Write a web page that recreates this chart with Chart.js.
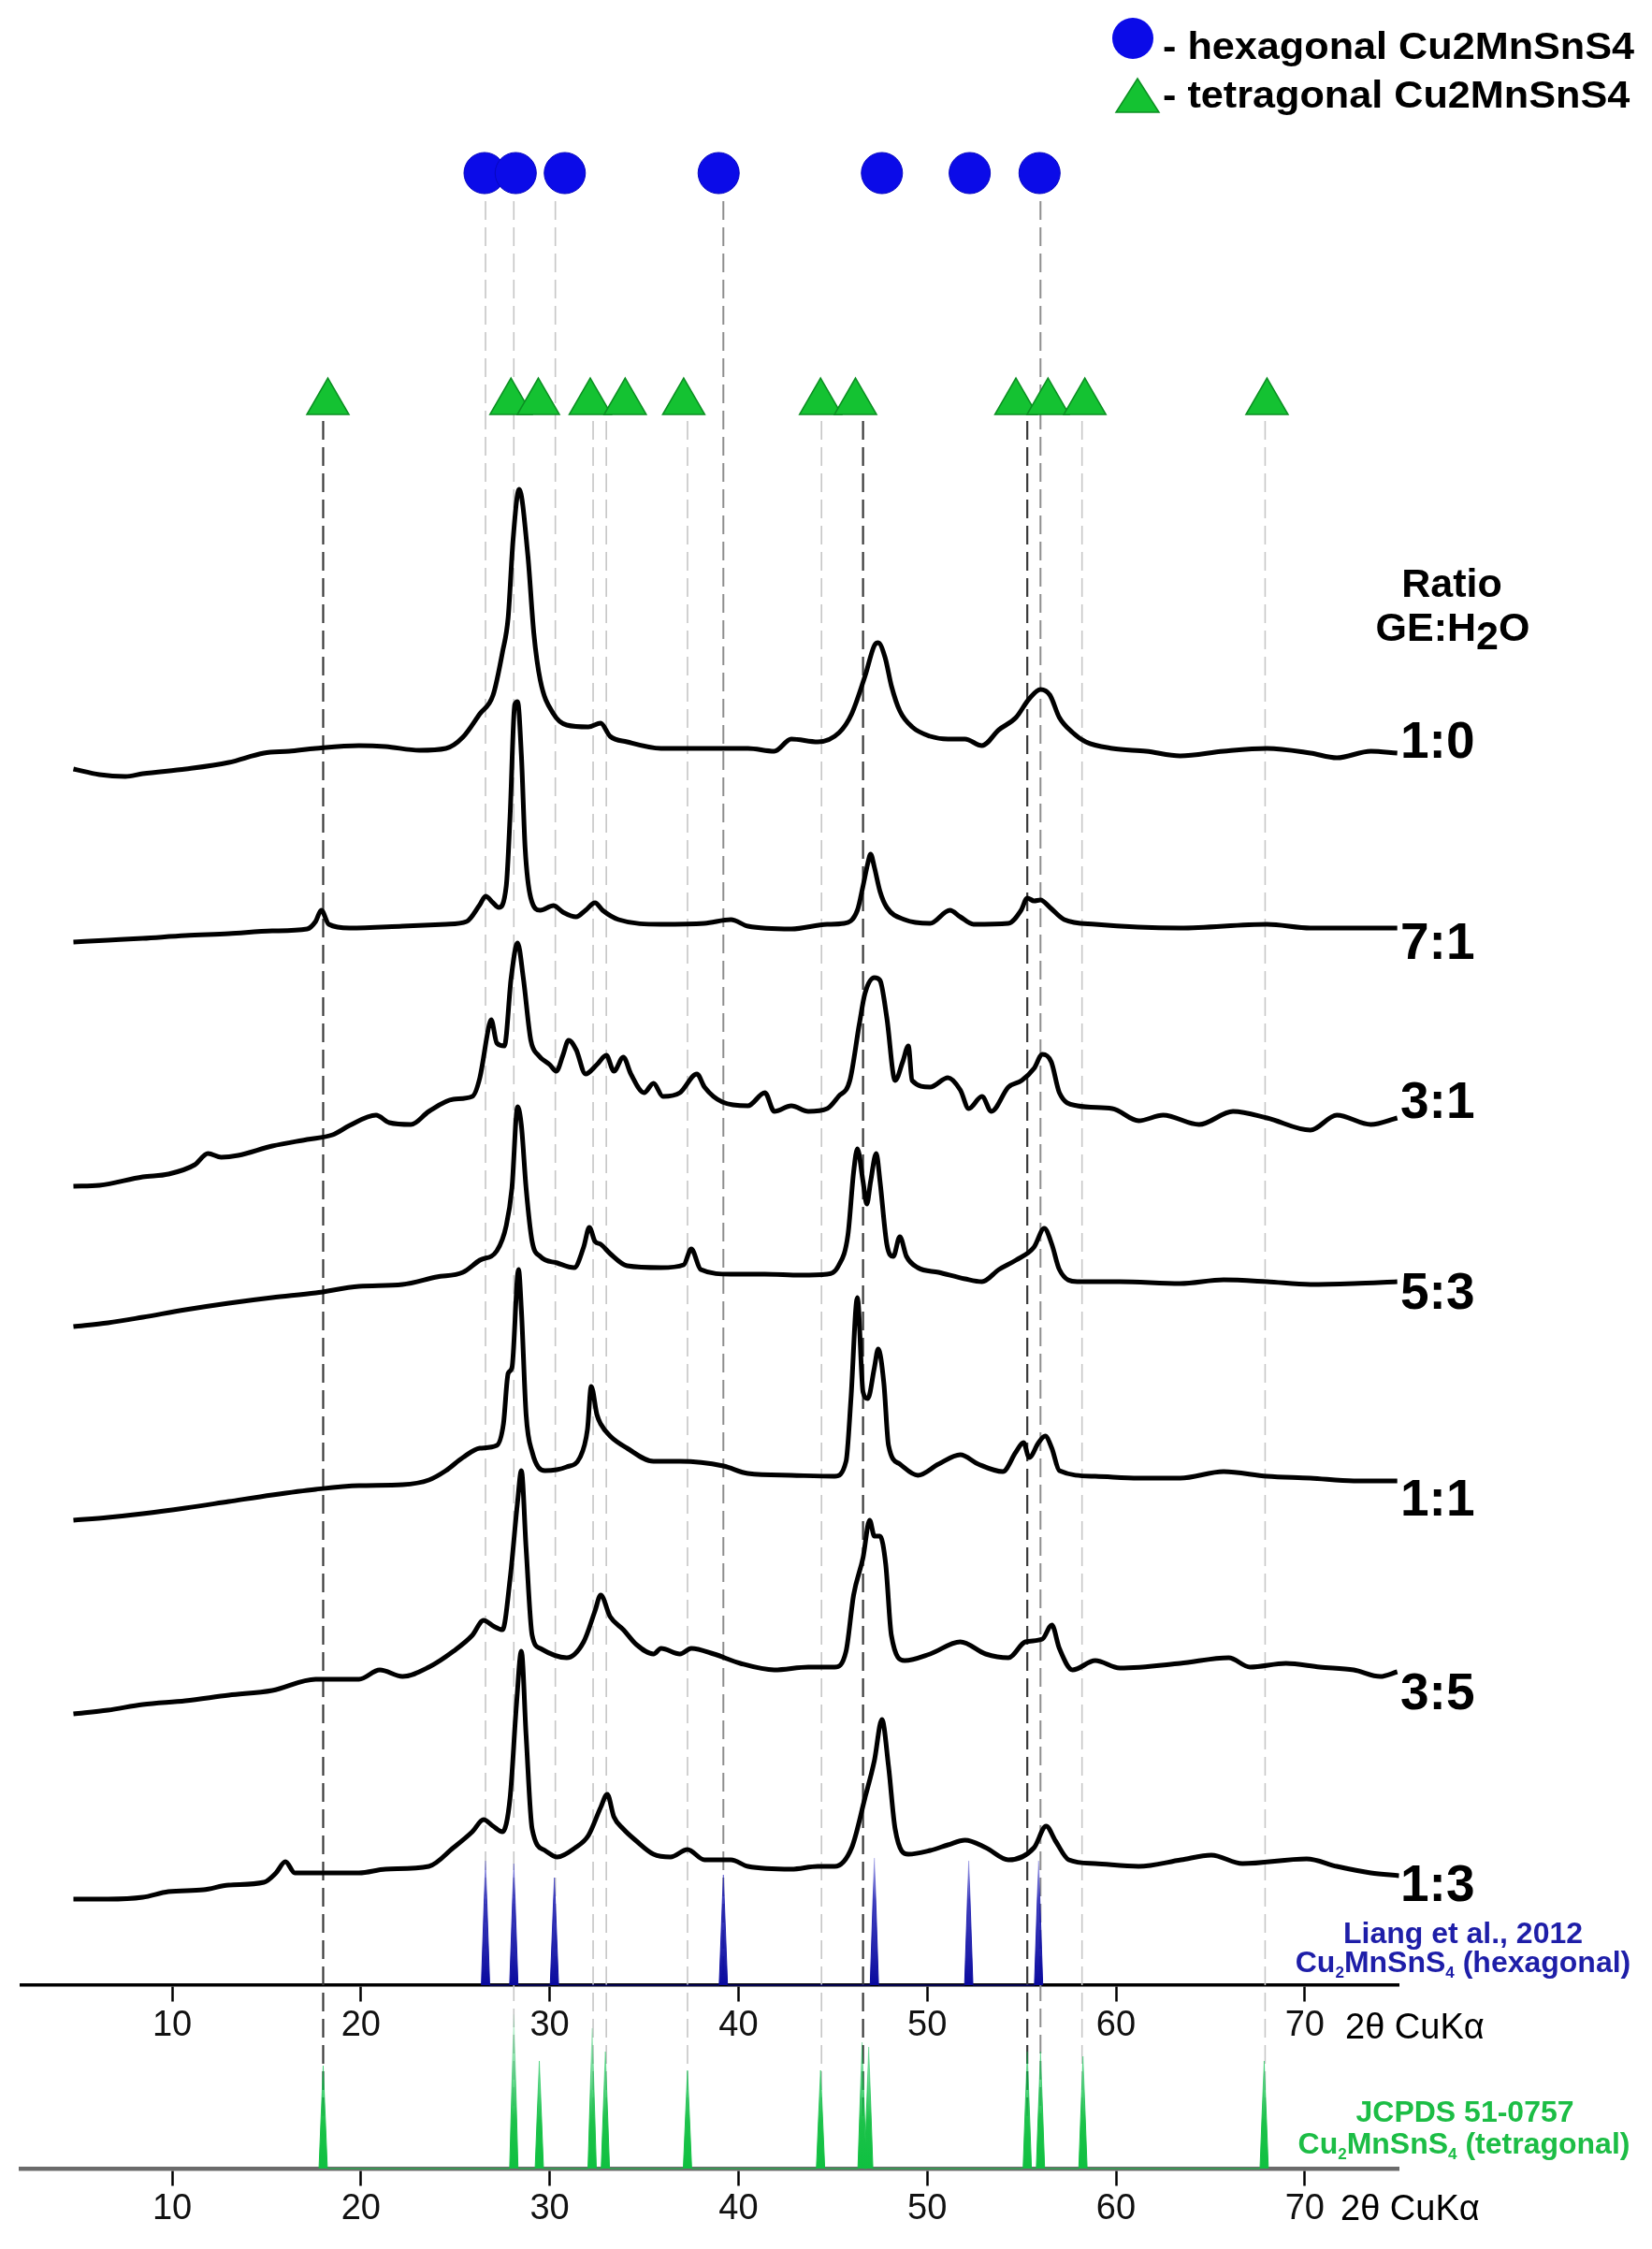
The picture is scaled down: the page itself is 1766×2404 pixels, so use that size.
<!DOCTYPE html>
<html lang="en">
<head>
<meta charset="UTF-8">
<title>XRD Cu2MnSnS4 - ratio GE:H2O</title>
<script src="https://cdn.jsdelivr.net/npm/chart.js@4.4.1/dist/chart.umd.min.js"></script>
<style>
  html, body { margin: 0; padding: 0; background: #fff; }
  #wrap { position: relative; width: 1766px; height: 2404px; font-family: "Liberation Sans", Arial, sans-serif; color: #000; }
  #xrd { position: absolute; left: 0; top: 0; }
  .lbl { position: absolute; white-space: nowrap; line-height: 1.15; }
  .legend { font-weight: bold; font-size: 40px; transform: translateY(-50%) scaleX(1.08); transform-origin: left center; }
  .head { font-weight: bold; font-size: 43px; transform: translate(-50%, -50%); }
  .ratio { font-weight: bold; font-size: 55px; transform: translateY(-50%); }
  .ref { font-weight: bold; font-size: 32px; transform: translate(-50%, -50%); }
  .ref sub { font-size: 17px; vertical-align: -6px; }
  .hex { color: #1e1ea8; }
  .tet { color: #1cbd45; }
  .axt { font-size: 38px; transform: translateY(-50%); }
</style>
</head>
<body>
<div id="wrap">
  <canvas id="xrd" width="1766" height="2404"></canvas>
  <div class="lbl legend" style="left:1243px; top:49px">- hexagonal Cu2MnSnS4</div>
  <div class="lbl legend" style="left:1243px; top:101px">- tetragonal Cu2MnSnS4</div>
  <div class="lbl head" style="left:1552px; top:624px">Ratio</div>
  <div class="lbl head" style="left:1553px; top:671px">GE:H<span style="position:relative; top:9px">2</span>O</div>
  <div class="lbl ref hex" style="left:1564px; top:2066px">Liang et al., 2012</div>
  <div class="lbl ref hex" style="left:1564px; top:2099px">Cu<sub>2</sub>MnSnS<sub>4</sub> (hexagonal)</div>
  <div class="lbl ref tet" style="left:1566px; top:2257px">JCPDS 51-0757</div>
  <div class="lbl ref tet" style="left:1565px; top:2293px">Cu<sub>2</sub>MnSnS<sub>4</sub> (tetragonal)</div>
  <div class="lbl axt" style="left:1438px; top:2167px">2θ CuKα</div>
  <div class="lbl axt" style="left:1433px; top:2361px">2θ CuKα</div>
</div>

<script>
    // sample names (GE:H2O ratio), top to bottom
    const ratios = ['1:0', '7:1', '3:1', '5:3', '1:1', '3:5', '1:3'];

    // measured patterns, [2theta, intensity a.u.]
    const xrd_1_0 = [[4.77,18],[6.15,12],[7.52,10],[8.44,13],[10.73,18],[13.0,25],[14.86,35],[16.2,37],[17.6,40],[19.9,43],[21.3,42],[23.1,38],[24.5,40],[25.4,52],[26.3,77],[27.0,97],[27.5,143],[27.8,180],[28.06,263],[28.38,317],[28.84,247],[29.16,163],[29.5,113],[30.2,77],[30.9,65],[32.05,63],[32.7,67],[33.2,53],[34.1,47],[35.9,40],[38.2,40],[40.5,40],[41.9,37],[42.8,50],[44.2,47],[45.34,57],[46.0,77],[46.7,117],[47.2,150],[47.4,153],[47.77,137],[48.1,107],[48.55,80],[49.2,63],[50.15,53],[51.1,50],[52.0,50],[52.9,43],[53.8,60],[54.7,73],[55.4,93],[56.0,103],[56.5,97],[57.0,73],[57.7,57],[58.4,47],[59.8,40],[61.6,37],[63.4,32],[65.7,37],[68.0,40],[70.3,35],[71.7,30],[73.5,37],[74.9,35]];
    const xrd_7_1 = [[4.77,3],[6.6,5],[8.44,7],[10.7,10],[13.0,12],[15.3,15],[17.15,17],[17.6,25],[17.9,37],[18.3,22],[19.4,18],[22.2,20],[24.5,22],[25.6,25],[26.3,43],[26.6,52],[27.0,45],[27.3,40],[27.7,63],[27.9,137],[28.15,257],[28.3,260],[28.5,203],[28.7,103],[29.0,50],[29.5,37],[30.2,42],[30.7,35],[31.4,30],[31.9,37],[32.4,45],[32.8,37],[33.65,27],[35.9,22],[38.2,23],[39.6,27],[40.5,20],[42.8,17],[44.7,22],[45.6,23],[46.3,37],[46.6,63],[46.85,87],[47.0,97],[47.2,83],[47.5,57],[47.86,40],[48.8,27],[50.15,23],[51.2,37],[51.75,30],[52.45,22],[54.3,23],[54.97,37],[55.3,50],[55.66,47],[56.0,48],[56.5,40],[57.26,27],[58.9,22],[63.4,18],[68.0,22],[70.3,18],[74.9,18]];
    const xrd_3_1 = [[4.77,7],[6.15,8],[8.44,17],[9.8,20],[11.2,30],[11.9,42],[12.6,38],[13.5,40],[15.3,50],[17.15,57],[18.5,62],[19.4,72],[20.8,83],[21.5,75],[22.65,73],[23.6,87],[24.9,100],[25.9,103],[26.3,123],[26.8,180],[26.9,185],[27.2,160],[27.6,157],[27.96,230],[28.3,267],[28.6,230],[29.0,163],[29.4,147],[30.0,137],[30.35,130],[30.7,147],[31.0,163],[31.4,153],[31.9,127],[32.5,137],[33.0,147],[33.4,130],[33.9,145],[34.3,127],[35.0,107],[35.5,117],[36.0,103],[36.9,107],[37.8,127],[38.2,113],[39.15,97],[40.5,93],[41.4,107],[41.9,87],[42.8,93],[43.7,87],[44.7,90],[45.3,103],[45.9,120],[46.4,180],[46.7,213],[47.2,230],[47.5,227],[47.86,187],[48.3,120],[48.7,140],[49.0,157],[49.2,120],[50.15,113],[51.1,123],[51.75,110],[52.2,90],[52.9,103],[53.4,87],[54.3,113],[55.0,120],[55.66,133],[56.1,148],[56.57,140],[57.0,107],[57.95,93],[59.8,90],[61.2,77],[62.5,83],[64.4,73],[66.2,87],[68.0,80],[70.3,67],[71.7,83],[73.5,73],[74.9,80]];
    const xrd_5_3 = [[4.77,7],[6.6,11],[8.44,17],[10.7,25],[13.0,32],[15.3,38],[17.6,43],[19.9,50],[22.2,52],[24.0,60],[25.4,65],[26.3,78],[27.2,88],[27.7,115],[28.0,155],[28.3,242],[28.5,222],[28.75,155],[29.07,98],[29.5,82],[30.4,75],[31.3,70],[31.8,92],[32.1,113],[32.4,98],[32.7,95],[33.2,85],[34.1,72],[35.9,70],[37.1,73],[37.5,90],[38.0,68],[39.6,63],[41.4,63],[43.3,62],[44.7,63],[45.3,72],[45.8,105],[46.1,172],[46.3,197],[46.6,162],[46.8,138],[47.0,162],[47.3,192],[47.5,162],[47.86,95],[48.2,82],[48.55,103],[48.9,82],[49.5,70],[50.6,65],[52.0,58],[52.9,55],[53.8,68],[54.7,78],[55.66,92],[56.2,112],[56.6,95],[57.0,68],[57.95,55],[60.2,55],[63.4,53],[65.7,57],[68.0,55],[70.3,52],[72.6,53],[74.9,55]];
    const xrd_1_1 = [[4.77,5],[6.6,8],[8.44,12],[10.7,18],[13.0,25],[15.3,32],[17.6,38],[19.9,42],[22.2,43],[23.6,48],[24.5,58],[25.4,72],[26.3,82],[27.2,85],[27.55,108],[27.8,162],[28.0,168],[28.35,273],[28.5,230],[28.75,118],[29.07,78],[29.75,58],[30.9,62],[31.6,72],[32.0,102],[32.2,148],[32.5,118],[32.7,108],[33.2,95],[34.1,82],[35.5,68],[36.9,68],[39.2,63],[40.5,55],[42.8,53],[45.1,52],[45.7,68],[45.96,135],[46.3,243],[46.6,142],[46.85,135],[47.2,168],[47.4,188],[47.7,152],[47.95,85],[48.55,65],[49.5,53],[50.6,65],[51.75,75],[52.7,65],[54.0,57],[54.7,78],[55.1,88],[55.4,72],[55.9,88],[56.25,95],[56.6,82],[57.0,58],[58.9,52],[61.2,50],[63.4,50],[65.7,57],[68.0,52],[70.3,50],[72.6,47],[74.9,47]];
    const xrd_3_5 = [[4.77,3],[6.6,7],[8.44,13],[10.7,17],[13.0,23],[15.3,28],[17.6,40],[19.9,40],[21.0,50],[22.2,43],[23.6,53],[24.9,70],[25.9,87],[26.5,103],[27.0,97],[27.5,93],[27.9,147],[28.3,230],[28.5,263],[28.75,180],[29.07,87],[29.5,73],[30.9,63],[31.8,80],[32.4,113],[32.7,130],[33.2,107],[33.9,93],[34.6,77],[35.5,67],[35.9,73],[36.9,67],[37.5,73],[38.7,67],[40.1,57],[41.9,50],[43.7,53],[45.1,53],[45.7,70],[46.1,130],[46.6,170],[46.95,210],[47.2,193],[47.5,193],[47.8,163],[48.1,87],[48.8,60],[50.15,67],[51.75,80],[53.1,67],[54.3,63],[55.2,80],[56.1,83],[56.6,98],[57.0,73],[57.7,50],[58.9,60],[60.2,52],[63.4,57],[65.97,63],[67.1,53],[69.0,57],[70.8,53],[72.6,50],[74.0,43],[74.9,48]];
    const xrd_1_3 = [[4.77,5],[6.6,5],[8.44,7],[9.8,13],[11.65,15],[13.0,20],[14.86,23],[15.5,33],[16.0,45],[16.5,33],[17.6,33],[19.9,33],[21.3,37],[23.6,40],[24.9,60],[25.9,77],[26.5,90],[27.0,83],[27.5,77],[27.9,113],[28.24,213],[28.5,270],[28.75,180],[29.07,80],[29.75,57],[30.4,50],[31.36,60],[32.05,73],[32.7,103],[33.05,117],[33.4,93],[33.9,80],[34.6,67],[35.5,53],[36.4,50],[37.3,58],[38.2,47],[39.6,47],[40.5,40],[42.8,37],[44.2,40],[45.1,40],[46.0,60],[46.7,113],[47.2,153],[47.6,197],[47.95,147],[48.3,80],[49.0,53],[50.15,57],[51.1,63],[52.0,68],[53.1,60],[54.3,47],[55.66,60],[56.3,83],[56.8,67],[57.5,47],[58.9,43],[61.2,40],[63.45,47],[65.05,52],[66.7,43],[70.1,48],[71.7,40],[73.5,33],[75.0,30]];
    const patterns = [xrd_1_0, xrd_7_1, xrd_3_1, xrd_5_3, xrd_1_1, xrd_3_5, xrd_1_3];

    // reference stick patterns
    const hexStickX = [26.6, 28.1, 30.25, 39.2, 47.2, 52.2, 55.9];   // Liang et al., 2012
    const hexStickH = [133, 130, 115, 118, 136, 133, 133];
    const tetStickX = [18.0, 28.1, 29.45, 32.25, 32.95, 37.3, 44.35, 46.55, 46.9, 55.3, 56.0, 58.25, 67.85]; // JCPDS 51-0757
    const tetStickH = [110, 165, 115, 150, 125, 105, 105, 135, 130, 125, 125, 120, 115];

    // phase markers
    const hexMarkX = [26.55, 28.2, 30.8, 38.95, 47.6, 52.25, 55.95];
    const tetMarkX = [18.25, 27.95, 29.4, 32.15, 34.0, 37.1, 44.35, 46.2, 54.7, 56.4, 58.35, 68.0];

    // dashed guide lines: start at circle or triangle row, end on upper or lower axis
    const guideX    = [18.0, 26.6, 28.1, 30.3, 32.3, 33.0, 37.3, 39.2, 44.4, 46.6, 55.3, 56.0, 58.2, 67.9];
    const guideFrom = ['tet','hex','hex','hex','tet','tet','tet','hex','tet','tet','tet','hex','tet','tet'];
    const guideTo   = ['tet','hex','tet','hex','tet','tet','tet','hex','tet','tet','tet','tet','tet','tet'];
    const guideTone = ['dark','light','light','light','light','light','light','mid','light','dark','dark','mid','light','light'];

    const xTicks = [10, 20, 30, 40, 50, 60, 70];

    // layout (1 y-unit = 1 px)
    const Y_MAX = 2318, Y_MIN = -86;
    const AXIS1 = 196;          // upper 2theta axis (hexagonal reference)
    const AXIS2 = 0;            // lower 2theta axis (tetragonal reference)
    const stackOffsets = [1478, 1308, 1043, 893, 688, 483, 283];
    const labelTop = [792, 1007, 1177, 1381, 1602, 1809, 2014];
    const CIRCLE_Y = 2133, TRI_Y = 1888, GUIDE_HEX = 2103, GUIDE_TET = 1868;

    const tones = {
        dark:  { color: '#3a3a3a', width: 2.2 },
        mid:   { color: '#8e8e8e', width: 2 },
        light: { color: '#c6c6c6', width: 1.6 }
    };

    function spikes(xs, hs, base) {
        const pts = [];
        xs.forEach((x, i) => {
            pts.push({ x: x - 0.22, y: base }, { x: x, y: base + hs[i] }, { x: x + 0.22, y: base });
        });
        return pts;
    }

    function stickFill(stops, base, span) {
        return (ctx) => {
            const chart = ctx.chart;
            if (!chart.chartArea) return stops[stops.length - 1][1];
            const y = chart.scales.y;
            const g = chart.ctx.createLinearGradient(0, y.getPixelForValue(base + span), 0, y.getPixelForValue(base));
            stops.forEach(s => g.addColorStop(s[0], s[1]));
            return g;
        };
    }

    const datasets = [];

    guideX.forEach((x, i) => {
        const t = tones[guideTone[i]];
        datasets.push({
            data: [{ x: x, y: guideFrom[i] === 'hex' ? GUIDE_HEX : GUIDE_TET },
                   { x: x, y: guideTo[i] === 'hex' ? AXIS1 : AXIS2 }],
            borderColor: t.color, borderWidth: t.width, borderDash: [20, 8],
            pointRadius: 0, order: 10
        });
    });

    const blueStops = [[0, 'rgba(40,40,200,0.12)'], [0.35, 'rgba(20,20,175,0.8)'], [1, '#0a0a9e']];
    const greenStops = [[0, 'rgba(0,190,70,0)'], [0.35, 'rgba(0,190,70,0.45)'], [0.7, '#1cc24a'], [1, '#0fc040']];
    datasets.push({
        data: spikes(hexStickX, hexStickH, AXIS1),
        borderColor: stickFill(blueStops, AXIS1, 140), backgroundColor: stickFill(blueStops, AXIS1, 140),
        borderWidth: 1, fill: { value: AXIS1 }, pointRadius: 0, order: 8
    });
    datasets.push({
        data: spikes(tetStickX, tetStickH, AXIS2),
        borderColor: stickFill(greenStops, AXIS2, 170), backgroundColor: stickFill(greenStops, AXIS2, 170),
        borderWidth: 1, fill: { value: AXIS2 }, pointRadius: 0, order: 8
    });

    patterns.forEach((p, i) => {
        datasets.push({
            label: ratios[i],
            data: p.map(d => ({ x: d[0], y: stackOffsets[i] + d[1] })),
            borderColor: '#000', borderWidth: 5, pointRadius: 0, fill: false,
            cubicInterpolationMode: 'monotone', borderJoinStyle: 'round', order: 2
        });
    });

    datasets.push({
        type: 'scatter', data: hexMarkX.map(x => ({ x: x, y: CIRCLE_Y })),
        pointStyle: 'circle', pointRadius: 22, backgroundColor: '#0b0be8', borderColor: '#0707c0', borderWidth: 1, order: 1
    });
    datasets.push({
        type: 'scatter', data: tetMarkX.map(x => ({ x: x, y: TRI_Y })),
        pointStyle: 'triangle', pointRadius: 26, backgroundColor: '#14c232', borderColor: '#0b8f22', borderWidth: 1.5, order: 1
    });

    // big markers of the legend, top right
    const legendMarks = {
        id: 'legendMarks',
        afterDatasetsDraw(chart) {
            const c = chart.ctx;
            c.save();
            c.fillStyle = '#0b0be8';
            c.beginPath(); c.arc(1211, 41, 22, 0, Math.PI * 2); c.fill();
            c.fillStyle = '#14c232'; c.strokeStyle = '#0b8f22'; c.lineWidth = 1.5;
            c.beginPath(); c.moveTo(1216, 84); c.lineTo(1239, 120); c.lineTo(1193, 120); c.closePath();
            c.fill(); c.stroke();
            c.restore();
        }
    };

    const tickFont = { family: '"Liberation Sans", Arial, sans-serif', size: 38 };
    function thetaAxis(axisValue, borderColor, borderWidth) {
        return {
            type: 'linear', axis: 'x', min: 2, max: 75,
            position: { y: axisValue },
            afterBuildTicks: s => { s.ticks = xTicks.map(v => ({ value: v })); },
            grid: { drawOnChartArea: false, tickLength: 16, tickWidth: 2.5, tickColor: '#000' },
            border: { color: borderColor, width: borderWidth },
            ticks: { padding: 5, color: '#111', font: tickFont }
        };
    }

    new Chart(document.getElementById('xrd'), {
        type: 'line',
        data: { datasets: datasets },
        options: {
            responsive: false,
            animation: false,
            events: [],
            layout: { autoPadding: false, padding: { left: 22.6, right: 270.3, top: 0, bottom: 0 } },
            plugins: { legend: { display: false }, tooltip: { enabled: false } },
            scales: {
                x: thetaAxis(AXIS1, '#000', 3.5),
                x2: thetaAxis(AXIS2, '#6b6b6b', 4.5),
                y: { type: 'linear', min: Y_MIN, max: Y_MAX, display: false }
            }
        },
        plugins: [legendMarks]
    });

    // ratio labels at the right end of each pattern
    const wrap = document.getElementById('wrap');
    ratios.forEach((r, i) => {
        const d = document.createElement('div');
        d.className = 'lbl ratio';
        d.style.left = '1497px';
        d.style.top = labelTop[i] + 'px';
        d.textContent = r;
        wrap.appendChild(d);
    });
</script>
</body>
</html>
